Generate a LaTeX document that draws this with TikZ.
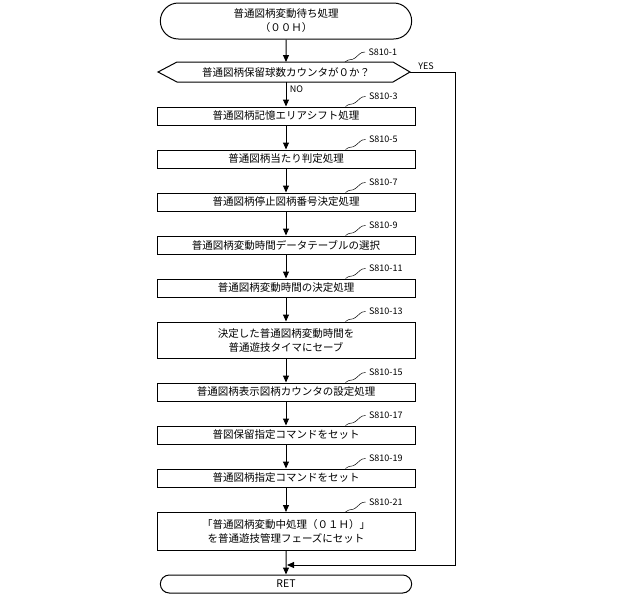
\documentclass[tikz,border=0pt]{standalone}
\usepackage{fontspec}
\setmainfont{Noto Sans CJK JP}
\usetikzlibrary{arrows.meta,shapes.misc,calc}
\tikzset{
  procbox/.style={draw, line width=1pt, minimum width=258pt, inner sep=1pt, align=center, font=\fontsize{10.5pt}{14pt}\selectfont},
  termbox/.style={draw, line width=1pt, rounded rectangle, minimum width=258pt, align=center, font=\fontsize{10.5pt}{14pt}\selectfont},
  flow/.style={-{Triangle[length=7pt,width=6pt]}, line width=1pt},
  steplbl/.style={font=\fontsize{9pt}{10pt}\selectfont, anchor=west}
}
\newcommand{\stepmark}[2]{%
  \draw[line width=0.5pt] ($(#1.north east)+(-70,0)$) .. controls +(5,-4) and +(-4,3) .. ++(10,-4) .. controls +(4,-3) and +(-5,0) .. ++(10,-6);
  \node[steplbl] at ($(#1.north east)+(-50,-10)$) {#2};}
\begin{document}
\begin{tikzpicture}[x=1pt,y=-1pt]
  \useasboundingbox (0,0) rectangle (640,595);
  \node[termbox, minimum height=36pt] (start) at (286,21) {普通図柄変動待ち処理\\（００Ｈ）};
  \draw[line width=1pt] (158,72) -- (177,62) -- (393,62) -- (410,72) -- (393,82) -- (177,82) -- cycle;
  \node[font=\fontsize{10.5pt}{12pt}\selectfont] (dec) at (286,72) {普通図柄保留球数カウンタが０か？};
  \coordinate (decN) at (286,62);
  \coordinate (decS) at (286,82);
  \coordinate (decE) at (410,72);
  \node[procbox, minimum height=18pt] (s3) at (286,116) {普通図柄記憶エリアシフト処理};
  \node[procbox, minimum height=18pt] (s5) at (286,159) {普通図柄当たり判定処理};
  \node[procbox, minimum height=18pt] (s7) at (286,202) {普通図柄停止図柄番号決定処理};
  \node[procbox, minimum height=18pt] (s9) at (286,245) {普通図柄変動時間データテーブルの選択};
  \node[procbox, minimum height=18pt] (s11) at (286,288) {普通図柄変動時間の決定処理};
  \node[procbox, minimum height=36pt] (s13) at (286,340) {決定した普通図柄変動時間を\\普通遊技タイマにセーブ};
  \node[procbox, minimum height=18pt] (s15) at (286,392) {普通図柄表示図柄カウンタの設定処理};
  \node[procbox, minimum height=18pt] (s17) at (286,435) {普図保留指定コマンドをセット};
  \node[procbox, minimum height=18pt] (s19) at (286,478) {普通図柄指定コマンドをセット};
  \node[procbox, minimum height=38pt] (s21) at (286,531.5) {「普通図柄変動中処理（０１Ｈ）」\\を普通遊技管理フェーズにセット};
  \node[termbox, minimum height=18pt] (ret) at (286,584) {RET};
  % labels
  \draw[line width=0.5pt] (345,62) .. controls +(5,-4) and +(-4,3) .. ++(10,-4) .. controls +(4,-3) and +(-5,0) .. ++(10,-6);
  \node[steplbl] at (365,52) {S810-1};
  \stepmark{s3}{S810-3}
  \stepmark{s5}{S810-5}
  \stepmark{s7}{S810-7}
  \stepmark{s9}{S810-9}
  \stepmark{s11}{S810-11}
  \stepmark{s13}{S810-13}
  \stepmark{s15}{S810-15}
  \stepmark{s17}{S810-17}
  \stepmark{s19}{S810-19}
  \stepmark{s21}{S810-21}
  % flow
  \draw[flow] (start) -- (decN);
  \draw[flow] (decS) -- (s3) node[pos=0.3, right, font=\fontsize{9pt}{10pt}\selectfont] {NO};
  \foreach \a/\b in {s3/s5,s5/s7,s7/s9,s9/s11,s11/s13,s13/s15,s15/s17,s17/s19,s19/s21,s21/ret}
    \draw[flow] (\a) -- (\b);
  \coordinate (loop) at (455,565);
  \draw[flow] (decE) -- (455,72) -- (loop) -- (287,565);
  \node[font=\fontsize{9pt}{10pt}\selectfont] at (426,66) {YES};
\end{tikzpicture}
\end{document}
